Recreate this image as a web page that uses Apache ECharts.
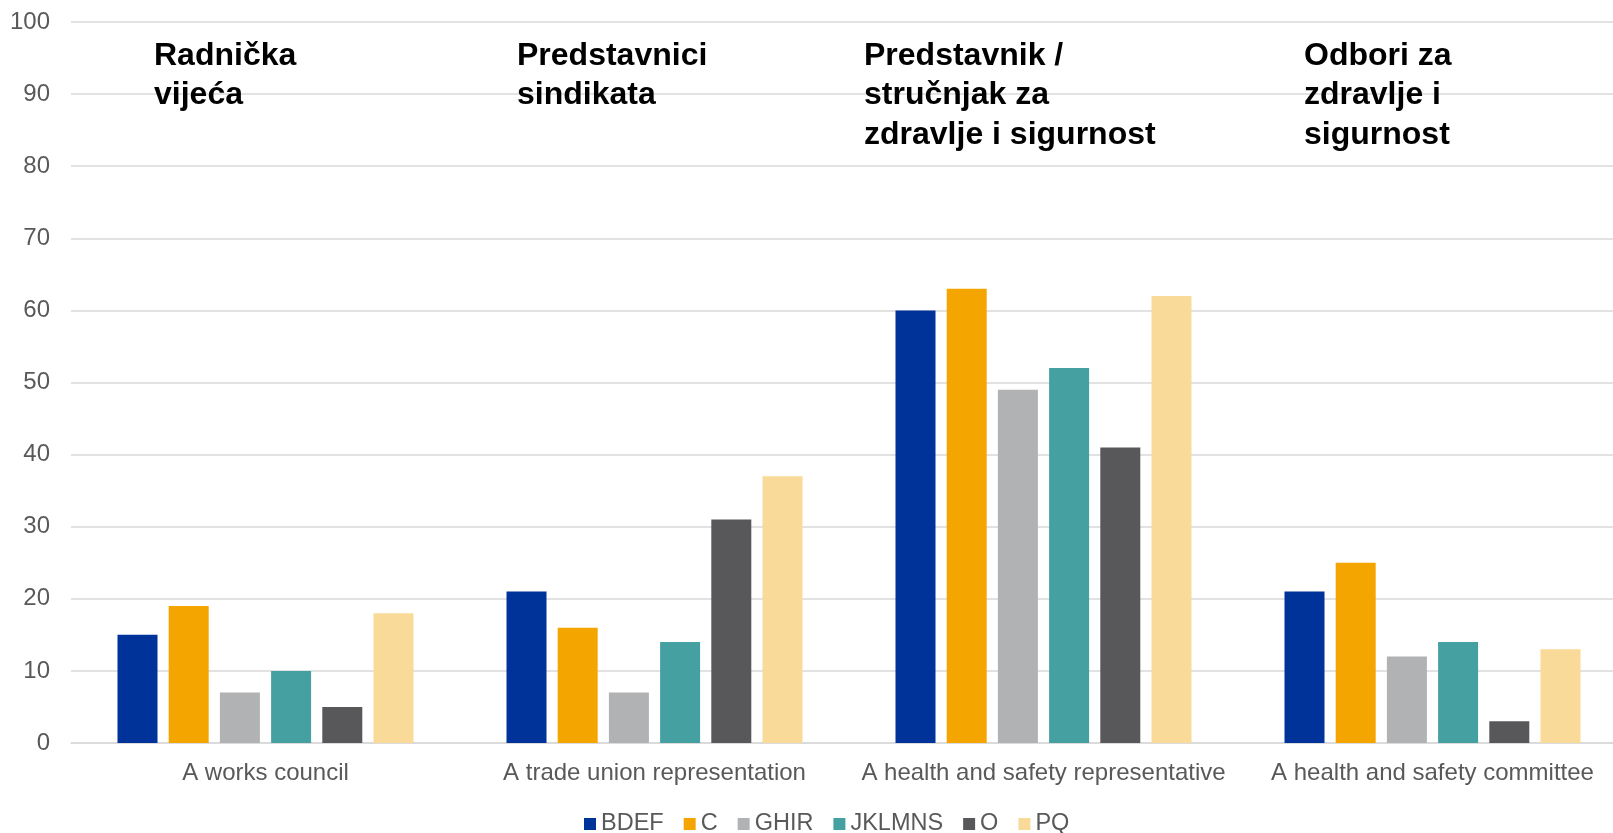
<!DOCTYPE html>
<html>
<head>
<meta charset="utf-8">
<script src="https://cdn.jsdelivr.net/npm/echarts@6/dist/echarts.min.js"></script>
<style>
  html, body { margin: 0; padding: 0; background: #fff; }
  #chart { width: 1613px; height: 833px; }
</style>
</head>
<body>
<div id="chart"></div>
<script>
const categories = [
  'A works council',
  'A trade union representation',
  'A health and safety representative',
  'A health and safety committee'
]
const seriesNames = ['BDEF', 'C', 'GHIR', 'JKLMNS', 'O', 'PQ']
const bdef = [15, 21, 60, 21]
const c = [19, 16, 63, 25]
const ghir = [7, 7, 49, 12]
const jklmns = [10, 14, 52, 14]
const o = [5, 31, 41, 3]
const pq = [18, 37, 62, 13]
const yTicks = [0, 100, 10]  // min, max, interval
const notes = [
  'Radnička\nvijeća',
  'Predstavnici\nsindikata',
  'Predstavnik /\nstručnjak za\nzdravlje i sigurnost',
  'Odbori za\nzdravlje i\nsigurnost'
]

const colors = ['#003399', '#f5a500', '#b1b2b4', '#45a0a2', '#58585a', '#fada99']
const values = [bdef, c, ghir, jklmns, o, pq]
const font = "'Liberation Sans', Arial, sans-serif"
const noteX = [154, 517, 864, 1304]

const chart = echarts.init(document.getElementById('chart'))
chart.setOption({
  backgroundColor: '#fff',
  animation: false,
  textStyle: { fontFamily: font },
  // plot runs a little past the right edge, as in the source picture
  grid: { left: 71, width: 1556, top: 22, bottom: 90, outerBoundsMode: 'none' },
  legend: {
    top: 807,
    left: 579,
    itemWidth: 12,
    itemHeight: 12,
    itemGap: 20,
    icon: 'rect',
    textStyle: { color: '#595959', fontSize: 23.5, fontFamily: font },
    data: seriesNames
  },
  xAxis: {
    type: 'category',
    data: categories,
    axisLine: { lineStyle: { color: '#d9d9d9', width: 1.5 } },
    axisTick: { show: false },
    axisLabel: { color: '#595959', fontSize: 24, margin: 18, interval: 0, fontFamily: font }
  },
  yAxis: {
    type: 'value',
    min: yTicks[0],
    max: yTicks[1],
    interval: yTicks[2],
    axisLine: { show: false },
    axisTick: { show: false },
    splitLine: { lineStyle: { color: '#d9d9d9', width: 1.5 } },
    axisLabel: { color: '#595959', fontSize: 24, margin: 21, fontFamily: font }
  },
  graphic: notes.map((t, i) => ({
    type: 'text',
    left: noteX[i],
    top: 36,
    z: 10,
    style: {
      text: t,
      font: 'bold 32px ' + font,
      fill: '#000',
      lineHeight: 39.5
    }
  })),
  series: seriesNames.map((name, i) => ({
    name,
    type: 'bar',
    data: values[i],
    barWidth: 40,
    barGap: '28%',
    itemStyle: { color: colors[i] }
  }))
})
</script>
</body>
</html>
